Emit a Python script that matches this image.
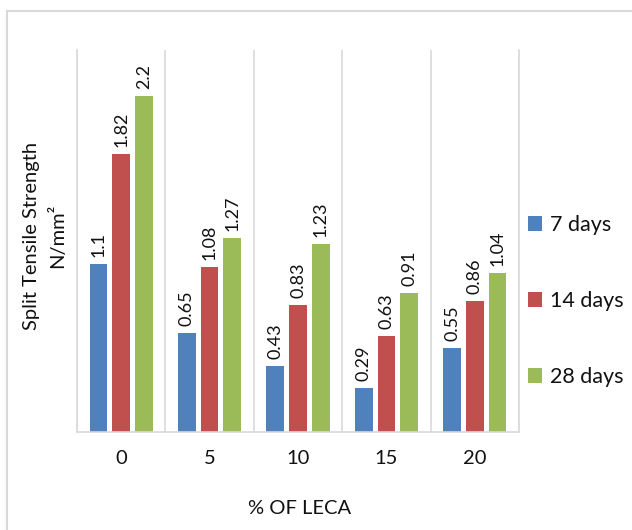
import numpy as np, pandas as pd, matplotlib
matplotlib.use('Agg')
import matplotlib.pyplot as plt, seaborn as sns
from matplotlib.patches import Rectangle

### data ###
leca = ['0', '5', '10', '15', '20']
days_7 = [1.1, 0.65, 0.43, 0.29, 0.55]
days_14 = [1.82, 1.08, 0.83, 0.63, 0.86]
days_28 = [2.2, 1.27, 1.23, 0.91, 1.04]
series = ['7 days', '14 days', '28 days']
colors = ['#4F81BD', '#C0504D', '#9BBB59']

df = pd.DataFrame({'leca': leca * 3,
                   'age': np.repeat(series, len(leca)),
                   'strength': days_7 + days_14 + days_28})

sns.set_style('white')
plt.rcParams['font.family'] = ['Lato', 'DejaVu Sans']
grid_c = '#D9D9D9'
txt_c = '#111111'

fig = plt.figure(figsize=(6.32, 5.3), dpi=100)
ax = fig.add_axes([77/632, 98/530, 442/632, 382/530])

sns.barplot(data=df, x='leca', y='strength', hue='age', palette=colors,
            width=0.77, gap=0.22, saturation=1, linewidth=0, ax=ax)

# value labels
for cont, vals in zip(ax.containers, [days_7, days_14, days_28]):
    ax.bar_label(cont, labels=[f'{v:g}' for v in vals], rotation=90,
                 padding=5, fontsize=13, color=txt_c)

# category separators
for x in np.arange(-0.5, len(leca), 1):
    ax.axvline(x, color=grid_c, lw=1.2, zorder=0)

ax.set_xlim(-0.5, len(leca) - 0.5)
ax.set_ylim(0, 2.5)
ax.set_yticks([])
ax.set_xlabel('')
ax.set_ylabel('')
ax.tick_params(axis='x', length=0, pad=13, labelsize=14.5, colors=txt_c)
for s in ['left', 'right', 'bottom']:
    ax.spines[s].set_color(grid_c)
    ax.spines[s].set_linewidth(1.2)
ax.spines['top'].set_visible(False)

# legend
h, l = ax.get_legend_handles_labels()
ax.legend_.remove()
fig.legend(h, l, loc='center left', bbox_to_anchor=(528/632, (530-301)/530),
           frameon=False, borderaxespad=0, borderpad=0, fontsize=15.5,
           handlelength=0.65, handleheight=0.65, handletextpad=0.35,
           labelspacing=2.6, labelcolor=txt_c)

fig.text(45/632, (530-236)/530, 'Split Tensile Strength\nN/mm²', rotation=90,
         ha='center', va='center', fontsize=14.5, linespacing=1.55, color=txt_c)
fig.text(300/632, (530-508)/530, '% OF LECA', ha='center', va='center',
         fontsize=14.5, color=txt_c)

# outer chart frame (cut off on right and bottom)
fig.patches.append(Rectangle((7/632, -0.1), 2, (530-11)/530 + 0.1,
                             transform=fig.transFigure, fill=False,
                             ec=grid_c, lw=1.5))

plt.savefig('out.png', dpi=100)
